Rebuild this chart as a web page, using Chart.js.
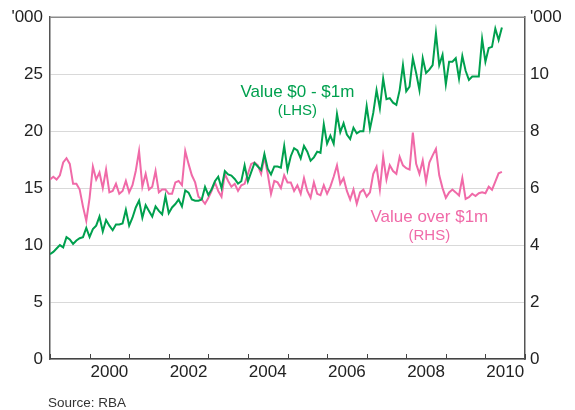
<!DOCTYPE html>
<html>
<head>
<meta charset="utf-8">
<script src="https://cdn.jsdelivr.net/npm/chart.js@4/dist/chart.umd.min.js"></script>
<style>
  html, body { margin: 0; padding: 0; background: #fff; }
  #wrap { position: relative; width: 575px; height: 410px; }
  #source { position: absolute; left: 48px; top: 395px; font: 13.5px "Liberation Sans", Arial, sans-serif; color: #333; }
</style>
</head>
<body>
<div id="wrap">
  <canvas id="chart" width="575" height="410"></canvas>
  <div id="source">Source: RBA</div>
</div>
<script>
// monthly, Jan 1999 - Jun 2010 ('000)
var startYear = 1999;
var lowValue = [
	9.2, 9.4, 9.7, 10.0, 9.8, 10.7, 10.5, 10.1, 10.4, 10.6, 10.7, 11.5,
	10.7, 11.4, 11.7, 12.5, 11.2, 12.2, 11.7, 11.3, 11.8, 11.8, 11.9, 13.1,
	11.7, 12.4, 13.3, 13.9, 12.4, 13.5, 13.0, 12.5, 13.4, 13.0, 12.7, 14.3,
	12.8, 13.3, 13.6, 14.0, 13.4, 14.8, 14.6, 14.0, 13.9, 13.9, 14.0, 15.1,
	14.4, 14.9, 15.6, 16.0, 15.0, 16.5, 16.2, 16.1, 15.8, 15.4, 15.6, 17.0,
	15.6, 16.4, 17.2, 16.9, 16.6, 18.0, 16.7, 16.2, 16.9, 16.9, 16.8, 18.7,
	16.6, 17.8, 18.5, 18.3, 17.6, 18.7, 18.2, 17.4, 17.7, 18.2, 18.1, 20.6,
	18.9, 19.6, 18.9, 21.5, 19.9, 20.7, 19.7, 19.3, 20.3, 19.8, 20.0, 20.0,
	22.2, 20.2, 21.6, 23.6, 22.0, 24.6, 22.8, 22.9, 22.5, 22.3, 23.6, 25.8,
	23.5, 23.9, 26.4, 25.1, 23.6, 26.4, 25.1, 25.4, 25.8, 28.6, 25.8, 26.7,
	24.1, 26.1, 26.1, 26.4, 24.6, 26.6, 25.3, 24.5, 24.8, 24.8, 24.8, 28.1,
	26.1, 27.3, 27.4, 29.0, 28.0, 29.1
];
var highValue = [
	6.3, 6.4, 6.3, 6.45, 6.9, 7.05, 6.85, 6.15, 6.15, 5.95, 5.35, 4.85,
	5.65, 6.75, 6.3, 6.55, 6.0, 6.65, 5.85, 5.9, 6.15, 5.8, 5.9, 6.25,
	5.85, 6.1, 6.6, 7.3, 6.05, 6.5, 5.95, 6.05, 6.6, 5.85, 5.95, 5.95,
	5.8, 5.8, 6.2, 6.25, 6.1, 7.3, 6.85, 6.45, 6.2, 5.7, 5.6, 5.45,
	5.65, 5.9, 6.2, 5.9, 5.7, 6.5, 6.25, 6.05, 6.15, 5.9, 6.1, 6.15,
	6.5, 6.85, 6.9, 6.8, 6.5, 7.1, 6.5, 5.8, 6.25, 6.2, 6.0, 6.45,
	6.2, 6.2, 5.9, 6.1, 5.8, 6.35, 5.9, 5.66, 6.2, 5.8, 5.75, 6.1,
	5.8, 6.05, 6.4, 6.8, 6.15, 6.35, 5.9, 5.6, 5.95, 5.45, 5.85, 5.95,
	5.7, 5.85, 6.5, 6.75, 5.95, 7.1, 6.3, 6.8, 6.6, 6.5, 7.1, 6.8,
	6.7, 6.65, 7.95, 6.85, 6.5, 6.97, 6.23, 6.9, 7.15, 7.38, 6.45, 6.0,
	5.66, 5.85, 5.95, 5.85, 5.74, 6.35, 5.62, 5.68, 5.8, 5.72, 5.82, 5.85,
	5.82, 6.05, 5.94, 6.23, 6.52, 6.57
];
var yearTicks = [1999, 2000, 2001, 2002, 2003, 2004, 2005, 2006, 2007, 2008, 2009, 2010, 2011];
var yearLabels = [2000, 2002, 2004, 2006, 2008, 2010];

var GREEN = '#00a04e';
var PINK = '#f06aa8';
var FONT = '"Liberation Sans", Arial, sans-serif';

function toPoints(arr) {
	var out = [];
	for (var i = 0; i < arr.length; i++) {
		out.push({x: i, y: arr[i]});
	}
	return out;
}

// text labels next to the lines, placed in data units
var lineLabels = [
	{text: 'Value $0 - $1m', x: 75, y: 23.4, axis: 'y', color: GREEN, size: 17},
	{text: '(LHS)', x: 75, y: 21.8, axis: 'y', color: GREEN, size: 15},
	{text: 'Value over $1m', x: 115, y: 4.97, axis: 'y2', color: PINK, size: 17},
	{text: '(RHS)', x: 115, y: 4.33, axis: 'y2', color: PINK, size: 15}
];

var framePlugin = {
	id: 'frame',
	afterDraw: function(chart) {
		var ctx = chart.ctx;
		var a = chart.chartArea;
		var xs = chart.scales.x;
		ctx.save();
		// top border
		ctx.strokeStyle = '#8a8a8a';
		ctx.lineWidth = 1.5;
		ctx.beginPath();
		ctx.moveTo(a.left, a.top);
		ctx.lineTo(a.right, a.top);
		ctx.stroke();
		// year tick marks, inward
		ctx.strokeStyle = '#444';
		ctx.lineWidth = 1;
		for (var i = 0; i < yearTicks.length; i++) {
			var px = Math.round(xs.getPixelForValue((yearTicks[i] - startYear) * 12)) + 0.5;
			ctx.beginPath();
			ctx.moveTo(px, a.bottom);
			ctx.lineTo(px, a.bottom - 5);
			ctx.stroke();
		}
		// line labels
		ctx.textAlign = 'center';
		ctx.textBaseline = 'middle';
		for (var j = 0; j < lineLabels.length; j++) {
			var l = lineLabels[j];
			ctx.fillStyle = l.color;
			ctx.font = l.size + 'px ' + FONT;
			ctx.fillText(l.text, xs.getPixelForValue(l.x), chart.scales[l.axis].getPixelForValue(l.y));
		}
		ctx.restore();
	}
};

var ctx = document.getElementById('chart').getContext('2d');
var chart = new Chart(ctx, {
	type: 'line',
	data: {
		datasets: [
			{
				label: 'Value $0 - $1m (LHS)',
				data: toPoints(lowValue),
				yAxisID: 'y',
				borderColor: GREEN,
				borderWidth: 2,
				pointRadius: 0,
				tension: 0,
				fill: false
			},
			{
				label: 'Value over $1m (RHS)',
				data: toPoints(highValue),
				yAxisID: 'y2',
				borderColor: PINK,
				borderWidth: 2,
				pointRadius: 0,
				tension: 0,
				fill: false
			}
		]
	},
	options: {
		responsive: false,
		animation: false,
		layout: { padding: { top: 10, left: 0, right: 0, bottom: 0 } },
		plugins: {
			legend: { display: false },
			tooltip: { enabled: false }
		},
		scales: {
			x: {
				type: 'linear',
				min: 0,
				max: 144,
				afterBuildTicks: function(scale) {
					scale.ticks = yearLabels.map(function(y) { return {value: (y - startYear) * 12 + 6}; });
				},
				afterFit: function(scale) { scale.height = 51; },
				ticks: {
					autoSkip: false,
					maxRotation: 0,
					padding: 3,
					color: '#222',
					font: { family: FONT, size: 17 },
					callback: function(v) { return String(startYear + (v - 6) / 12); }
				},
				grid: { display: false, drawTicks: false },
				border: { display: true, color: '#444', width: 1.5 }
			},
			y: {
				position: 'left',
				min: 0,
				max: 30,
				afterFit: function(scale) { scale.width = 50; },
				ticks: {
					stepSize: 5,
					padding: 7,
					color: '#222',
					font: { family: FONT, size: 17 },
					callback: function(v) { return v === 30 ? "'000" : v; }
				},
				grid: { color: '#d9d9d9', lineWidth: 1, drawTicks: false },
				border: { display: true, color: '#555', width: 1.5 }
			},
			y2: {
				position: 'right',
				min: 0,
				max: 12,
				afterFit: function(scale) { scale.width = 50; },
				ticks: {
					stepSize: 2,
					padding: 5,
					color: '#222',
					font: { family: FONT, size: 17 },
					callback: function(v) { return v === 12 ? "'000" : v; }
				},
				grid: { drawOnChartArea: false, drawTicks: false },
				border: { display: true, color: '#555', width: 1.5 }
			}
		}
	},
	plugins: [framePlugin]
});
</script>
</body>
</html>
